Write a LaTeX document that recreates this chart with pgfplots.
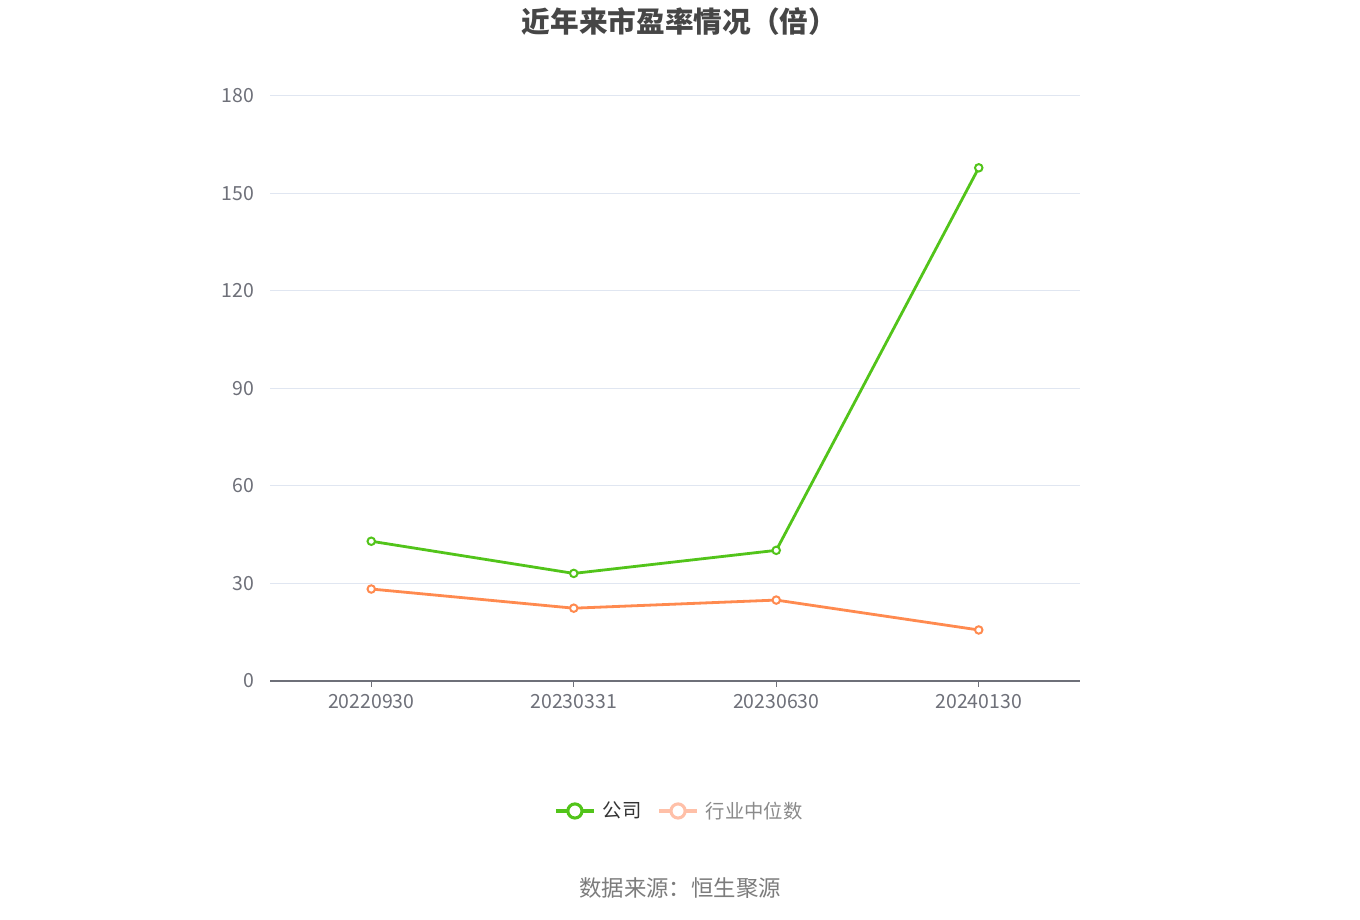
\documentclass[border=0pt]{standalone}
\usepackage{fontspec}
\setmainfont{Noto Sans CJK SC}
\usepackage{pgfplots}
\pgfplotsset{compat=1.18}
\definecolor{cgreen}{HTML}{52C41A}
\definecolor{corange}{HTML}{FF8A4F}
\definecolor{corangel}{HTML}{FFC0A8}
\definecolor{cgrid}{HTML}{E0E6F1}
\definecolor{caxis}{HTML}{6E7079}
\definecolor{ctitle}{HTML}{464646}
\definecolor{ctext}{HTML}{333333}
\definecolor{cgray}{HTML}{8A8A8A}
\begin{document}
\begin{tikzpicture}[x=1pt,y=1pt]
\fill[white] (0,0) rectangle (1020,690);
\node[font=\bfseries\fontsize{21.5}{24}\selectfont, text=ctitle] at (509.5,674) {近年来市盈率情况（倍）};
\node[font=\fontsize{16.8}{19}\selectfont, text=cgray!90!black] at (510,24) {数据来源：恒生聚源};
\begin{axis}[
  at={(202.5pt,179.25pt)}, anchor=south west,
  scale only axis, width=607.5pt, height=438.75pt,
  xmin=-0.5, xmax=3.5, ymin=0, ymax=180,
  xtick={0,1,2,3}, xticklabels={20220930,20230331,20230630,20240130},
  ytick={0,30,60,90,120,150,180},
  axis x line*=bottom, axis y line*=left,
  y axis line style={draw=none},
  x axis line style={caxis, line width=0.9pt, -},
  ytick style={draw=none},
  xtick style={caxis, line width=0.9pt},
  tick align=outside, major tick length=4.5pt,
  ymajorgrids, grid style={cgrid, line width=0.75pt},
  /pgf/number format/assume math mode=true,
  ticklabel style={font=\fontsize{14.6}{16}\selectfont, text=caxis},
  yticklabel style={xshift=-4pt},
  xticklabel style={yshift=-2pt},
  legend style={at={(0.506,-0.2222)}, anchor=center, draw=none, fill=none,
    font=\fontsize{14.5}{16}\selectfont, legend columns=2,
    /tikz/every even column/.append style={column sep=10pt}},
  legend cell align=left,
]
\addlegendimage{legend image code/.code={\draw[cgreen,line width=2.3pt] (0pt,0pt)--(28.5pt,0pt); \draw[cgreen,fill=white,line width=2.3pt] (14.25pt,0pt) circle (5.3pt); \path (33pt,0pt);}}
\addlegendentry{\textcolor{ctext}{公司}}
\addlegendimage{legend image code/.code={\draw[corangel,line width=2.3pt] (0pt,0pt)--(28.5pt,0pt); \draw[corangel,fill=white,line width=2.3pt] (14.25pt,0pt) circle (5.3pt); \path (33pt,0pt);}}
\addlegendentry{\textcolor{cgray}{行业中位数}}
\addplot[forget plot, cgreen, line width=2.1pt, mark=*, mark size=2.8pt, mark options={fill=white, line width=1.5pt}]
  coordinates {(0,43.0) (1,33.1) (2,40.2) (3,157.9)};
\addplot[forget plot, corange, line width=2.1pt, mark=*, mark size=2.8pt, mark options={fill=white, line width=1.5pt}]
  coordinates {(0,28.3) (1,22.4) (2,24.9) (3,15.7)};
\end{axis}
\end{tikzpicture}
\end{document}
